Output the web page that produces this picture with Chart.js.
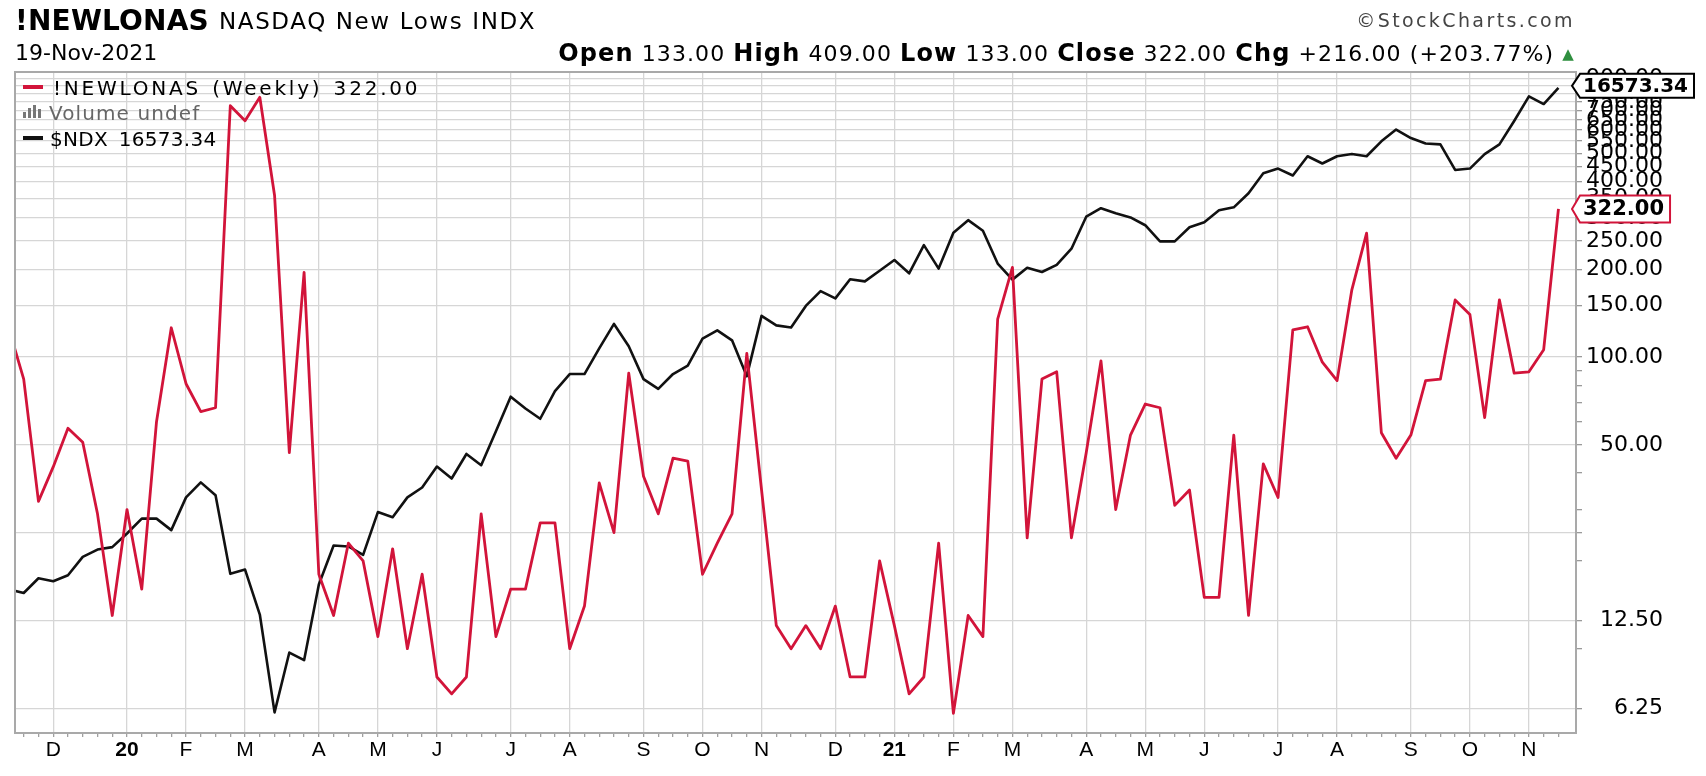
<!DOCTYPE html>
<html><head><meta charset="utf-8"><title>!NEWLONAS NASDAQ New Lows INDX</title>
<script src="https://cdn.jsdelivr.net/npm/chart.js@4.4.1/dist/chart.umd.min.js"></script>
<style>
html,body{margin:0;padding:0;background:#fff;overflow:hidden}
#wrap{position:relative;width:1706px;height:776px}
#c{position:absolute;left:0;top:0}
.t{position:absolute;white-space:nowrap;font-family:"DejaVu Sans",sans-serif;color:#000;line-height:1}
.b{font-weight:bold;font-size:24px}
</style></head><body><div id="wrap">
<canvas id="c" width="1706" height="776"></canvas>
<div class="t" style="left:15px;top:7px;font-size:28px;font-weight:bold;letter-spacing:0.2px">!NEWLONAS</div>
<div class="t" style="left:219px;top:10px;font-size:23px;letter-spacing:1.6px">NASDAQ New Lows INDX</div>
<div class="t" style="right:131px;top:11px;font-size:19px;letter-spacing:2.4px;color:#444">©StockCharts.com</div>
<div class="t" style="left:15px;top:42px;font-size:22px">19-Nov-2021</div>
<div class="t" id="ohlc" style="right:131px;top:41px;font-size:22px;letter-spacing:1.1px"></div>
<div style="position:absolute;left:23px;top:85px;width:20px;height:4px;background:#d2143a"></div>
<div class="t" id="leg1" style="left:53px;top:78px;font-size:20px;letter-spacing:2.8px;word-spacing:2px"></div>
<div style="position:absolute;left:23px;top:112px;width:3px;height:6px;background:#777"></div>
<div style="position:absolute;left:28px;top:108px;width:3px;height:10px;background:#777"></div>
<div style="position:absolute;left:33px;top:105px;width:3px;height:13px;background:#777"></div>
<div style="position:absolute;left:38px;top:109px;width:3px;height:9px;background:#777"></div>
<div class="t" style="left:49px;top:103px;font-size:20px;letter-spacing:1.1px;color:#666">Volume undef</div>
<div style="position:absolute;left:23px;top:136px;width:20px;height:4px;background:#111"></div>
<div class="t" id="leg3" style="left:50px;top:129px;font-size:20px;letter-spacing:0.3px;word-spacing:4px"></div>
</div>
<script>
// ---- data ----
const weeks = ['2019-11-15','2019-11-22','2019-11-29','2019-12-06','2019-12-13','2019-12-20','2019-12-27',
'2020-01-03','2020-01-10','2020-01-17','2020-01-24','2020-01-31','2020-02-07','2020-02-14','2020-02-21','2020-02-28',
'2020-03-06','2020-03-13','2020-03-20','2020-03-27','2020-04-03','2020-04-10','2020-04-17','2020-04-24','2020-05-01',
'2020-05-08','2020-05-15','2020-05-22','2020-05-29','2020-06-05','2020-06-12','2020-06-19','2020-06-26','2020-07-03',
'2020-07-10','2020-07-17','2020-07-24','2020-07-31','2020-08-07','2020-08-14','2020-08-21','2020-08-28','2020-09-04',
'2020-09-11','2020-09-18','2020-09-25','2020-10-02','2020-10-09','2020-10-16','2020-10-23','2020-10-30','2020-11-06',
'2020-11-13','2020-11-20','2020-11-27','2020-12-04','2020-12-11','2020-12-18','2020-12-25',
'2021-01-01','2021-01-08','2021-01-15','2021-01-22','2021-01-29','2021-02-05','2021-02-12','2021-02-19','2021-02-26',
'2021-03-05','2021-03-12','2021-03-19','2021-03-26','2021-04-02','2021-04-09','2021-04-16','2021-04-23','2021-04-30',
'2021-05-07','2021-05-14','2021-05-21','2021-05-28','2021-06-04','2021-06-11','2021-06-18','2021-06-25','2021-07-02',
'2021-07-09','2021-07-16','2021-07-23','2021-07-30','2021-08-06','2021-08-13','2021-08-20','2021-08-27','2021-09-03',
'2021-09-10','2021-09-17','2021-09-24','2021-10-01','2021-10-08','2021-10-15','2021-10-22','2021-10-29','2021-11-05',
'2021-11-12','2021-11-19'];

const newLows = [125,84,32,42,57,51,29,13,30,16,60,126,81,65,67,727,646,777,358,47,
195,18,13,23,20,11,22,10,18,8,7,8,29,11,16,16,27,27,10,14,
37,25,88,39,29,45,44,18,23,29,103,35,12,10,12,10,14,8,8,20,
12,7,8,23,6,13,11,135,203,24,84,89,24,47,97,30,54,69,67,31,
35,15,15,54,13,43,33,124,127,96,83,170,266,55,45,54,83,84,157,140,
62,157,88,89,106,322];

const ndxClose = [8300,8258,8428,8393,8462,8679,8768,8797,8964,9150,9150,9006,9422,9619,9450,8479,8529,8016,7004,7607,
7527,8356,8817,8805,8704,9233,9168,9422,9551,9831,9670,10003,9850,10323,10826,10650,10501,10910,11169,11169,
11571,11968,11605,11091,10942,11169,11301,11729,11863,11700,11136,12102,11944,11910,12269,12523,12397,12728,12692,12879,
13070,12833,13342,12917,13570,13809,13610,13008,12722,12933,12856,12985,13277,13875,14039,13941,13862,13713,13411,13411,
13675,13769,13998,14056,14331,14732,14828,14686,15082,14931,15082,15127,15082,15395,15648,15466,15350,15330,14800,14828,
15127,15330,15834,16381,16208,16573.34];

const monthTickDates = ['2019-12-06','2020-01-10','2020-02-07','2020-03-06','2020-04-10','2020-05-08','2020-06-05','2020-07-10',
'2020-08-07','2020-09-11','2020-10-09','2020-11-06','2020-12-11','2021-01-08','2021-02-05','2021-03-05','2021-04-09',
'2021-05-07','2021-06-04','2021-07-09','2021-08-06','2021-09-10','2021-10-08','2021-11-05'];
const monthTickLabels = ['D','20','F','M','A','M','J','J','A','S','O','N','D','21','F','M','A','M','J','J','A','S','O','N'];

const yTickValues = [6.25,12.5,25,50,100,150,200,250,300,350,400,450,500,550,600,650,700,750,800,850,900];
const yUnlabeled = [25];
const yMinorTicks = [10,20,30,40,60,70,80,90];

const ohlcLabels = ['Open','High','Low','Close','Chg'];
const ohlcValues = ['133.00','409.00','133.00','322.00','+216.00 (+203.77%)'];

// ---- header / legend text ----
const last = weeks.length - 1;
document.getElementById('ohlc').innerHTML = ohlcLabels.map((l,i)=>'<span class="b">'+l+'</span> '+ohlcValues[i]).join(' ') +
  ' <span style="color:#2f8f3f;font-size:15px;position:relative;top:-2px">▲</span>';
document.getElementById('leg1').textContent = '!NEWLONAS (Weekly) ' + newLows[last].toFixed(2);
document.getElementById('leg3').textContent = '$NDX ' + ndxClose[last].toFixed(2);

// ---- chart ----
const RED = '#d2143a', BLACK = '#111111', GRID = '#d6d6d6', FRAME = '#a9a9a9';
const monthIdx = monthTickDates.map(d => weeks.indexOf(d));
const labelFor = v => { const k = monthIdx.indexOf(v); return k >= 0 ? monthTickLabels[k] : ''; };

const framePlugin = {
  id: 'frame',
  afterDatasetsDraw(chart) {
    const {ctx, chartArea: a} = chart;
    ctx.save();
    ctx.strokeStyle = FRAME; ctx.lineWidth = 2;
    ctx.strokeRect(a.left, a.top, a.right - a.left, a.bottom - a.top);
    ctx.restore();
  }
};

const tagPlugin = {
  id: 'tags',
  afterDraw(chart) {
    const {ctx, chartArea: a, scales} = chart;
    const drawTag = (cy, h, stroke, text, font) => {
      ctx.save();
      ctx.font = font;
      const w = ctx.measureText(text).width;
      const tip = a.right - 4, base = a.right + 4, right = base + w + 9;
      ctx.beginPath();
      ctx.moveTo(tip, cy); ctx.lineTo(base, cy - h/2); ctx.lineTo(right, cy - h/2);
      ctx.lineTo(right, cy + h/2); ctx.lineTo(base, cy + h/2); ctx.closePath();
      ctx.fillStyle = '#fff'; ctx.fill();
      ctx.lineWidth = 2; ctx.strokeStyle = stroke; ctx.stroke();
      ctx.fillStyle = '#000'; ctx.textBaseline = 'middle'; ctx.textAlign = 'left';
      ctx.fillText(text, base + 3, cy + 1);
      ctx.restore();
    };
    drawTag(scales.y.getPixelForValue(newLows[last]), 27, RED, newLows[last].toFixed(2), 'bold 21px "DejaVu Sans"');
    drawTag(scales.y2.getPixelForValue(ndxClose[last]) - 2, 24, '#000', ndxClose[last].toFixed(2), 'bold 20px "DejaVu Sans"');
  }
};

new Chart(document.getElementById('c'), {
  type: 'line',
  data: {
    datasets: [
      { label: '!NEWLONAS', data: newLows.map((v,i)=>({x:i, y:v})), yAxisID: 'y',
        borderColor: RED, borderWidth: 2.8, pointRadius: 0, tension: 0, order: 0, borderJoinStyle: 'round' },
      { label: '$NDX', data: ndxClose.map((v,i)=>({x:i, y:v})), yAxisID: 'y2',
        borderColor: BLACK, borderWidth: 2.6, pointRadius: 0, tension: 0, order: 1, borderJoinStyle: 'round' }
    ]
  },
  options: {
    responsive: false, animation: false, devicePixelRatio: 1, events: [],
    layout: { padding: { left: 15, top: 72, right: 43, bottom: 0 } },
    plugins: { legend: { display: false }, tooltip: { enabled: false } },
    scales: {
      x: {
        type: 'linear', position: 'bottom', min: 0.41, max: 106.19, bounds: 'data',
        afterBuildTicks: s => { s.ticks = weeks.map((d,i)=>({value:i})).filter(t => t.value >= s.min && t.value <= s.max); },
        afterFit: s => { s.height = 43; },
        ticks: {
          autoSkip: false, maxRotation: 0, minRotation: 0, padding: 1, color: '#000',
          callback: v => labelFor(v),
          font: c => ({ family: '"Liberation Sans", Arial, sans-serif', size: 21,
                        weight: /^\d/.test(labelFor(c.tick ? c.tick.value : -1)) ? 'bold' : 'normal' })
        },
        grid: {
          color: c => (c.tick && monthIdx.includes(c.tick.value)) ? GRID : 'rgba(0,0,0,0)',
          tickColor: '#a0a0a0', tickLength: 4, lineWidth: 1.3, drawTicks: true
        },
        border: { display: false }
      },
      y: {
        type: 'logarithmic', position: 'right', min: 5.14, max: 949, bounds: 'data',
        afterBuildTicks: s => { s.ticks = yTickValues.concat(yMinorTicks).sort((a,b)=>a-b).map(v=>({value:v})); },
        afterFit: s => { s.width = 87; },
        ticks: {
          autoSkip: false, crossAlign: 'far', padding: 7, color: '#000',
          font: { family: '"DejaVu Sans", sans-serif', size: 22 },
          callback: v => (yTickValues.includes(v) && !yUnlabeled.includes(v)) ? Number(v).toFixed(2) : ''
        },
        grid: {
          color: c => (c.tick && yMinorTicks.includes(c.tick.value)) ? 'rgba(0,0,0,0)' : GRID,
          tickColor: '#9a9a9a', tickLength: 6, lineWidth: 1.3
        },
        border: { display: false }
      },
      y2: { type: 'logarithmic', position: 'left', display: false, min: 6808, max: 16940, bounds: 'data' }
    }
  },
  plugins: [framePlugin, tagPlugin]
});
</script>
</body></html>
